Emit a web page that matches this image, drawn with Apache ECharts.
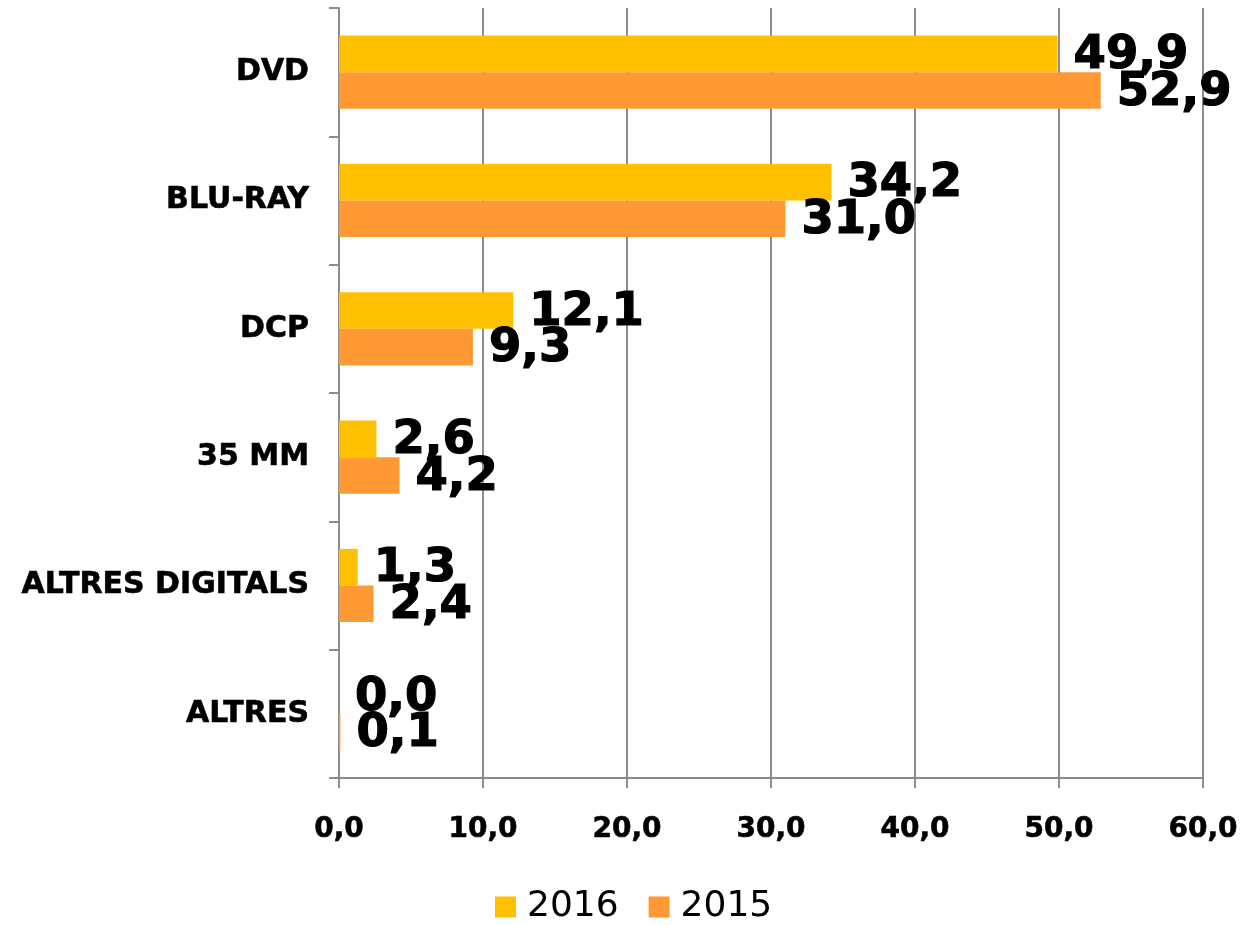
<!DOCTYPE html>
<html>
<head>
<meta charset="utf-8">
<script src="https://cdn.jsdelivr.net/npm/echarts@6/dist/echarts.min.js"></script>
<style>
html,body{margin:0;padding:0;background:#fff;}
#chart{width:1241px;height:925px;}
</style>
</head>
<body>
<div id="chart"></div>
<script>
const categories = ['DVD', 'BLU-RAY', 'DCP', '35 MM', 'ALTRES DIGITALS', 'ALTRES'];
const values2016 = [49.9, 34.2, 12.1, 2.6, 1.3, 0.0];
const values2015 = [52.9, 31.0, 9.3, 4.2, 2.4, 0.1];
const seriesNames = ['2016', '2015'];

const fmt = v => Number(v).toFixed(1).replace('.', ',');
const FONT = '"DejaVu Sans", Verdana, sans-serif';

const chart = echarts.init(document.getElementById('chart'), null, {renderer: 'canvas'});
const labelStyle = {
  show: true,
  position: 'right',
  distance: 16,
  offset: [0, 2],
  formatter: p => fmt(p.value),
  fontFamily: FONT,
  fontWeight: 'bold',
  fontSize: 46.5,
  color: '#000',
  textBorderColor: '#000',
  textBorderWidth: 1.2
};
chart.setOption({
  animation: false,
  backgroundColor: '#fff',
  grid: {left: 339, right: 38, top: 8, bottom: 147, containLabel: false},
  legend: {
    data: seriesNames,
    left: 490,
    top: 884,
    icon: 'rect',
    itemWidth: 21,
    itemHeight: 21,
    itemGap: 30,
    textStyle: {fontFamily: FONT, fontSize: 36, color: '#000', padding: [0, 0, 0, 6]}
  },
  xAxis: {
    type: 'value',
    min: 0,
    max: 60,
    interval: 10,
    axisLine: {show: true, lineStyle: {color: '#8c8c8c', width: 2}},
    axisTick: {show: true, length: 10, lineStyle: {color: '#8c8c8c', width: 2}},
    splitLine: {show: true, lineStyle: {color: '#8c8c8c', width: 2}},
    axisLabel: {
      margin: 38,
      formatter: v => fmt(v),
      fontFamily: FONT,
      fontWeight: 'bold',
      fontSize: 28,
      color: '#000',
      textBorderColor: '#000',
      textBorderWidth: 0.6
    }
  },
  yAxis: {
    type: 'category',
    data: categories,
    inverse: true,
    axisLine: {show: true, lineStyle: {color: '#8c8c8c', width: 2}},
    axisTick: {show: true, length: 10, lineStyle: {color: '#8c8c8c', width: 2}},
    axisLabel: {
      margin: 30,
      fontFamily: FONT,
      fontWeight: 'bold',
      fontSize: 30,
      color: '#000',
      textBorderColor: '#000',
      textBorderWidth: 0.6
    }
  },
  series: [
    {
      name: seriesNames[0],
      type: 'bar',
      data: values2016,
      barGap: '0%',
      barCategoryGap: '43%',
      itemStyle: {color: '#FFC000'},
      label: labelStyle
    },
    {
      name: seriesNames[1],
      type: 'bar',
      data: values2015,
      barGap: '0%',
      barCategoryGap: '43%',
      itemStyle: {color: '#FF9933'},
      label: labelStyle
    }
  ]
});
</script>
</body>
</html>
